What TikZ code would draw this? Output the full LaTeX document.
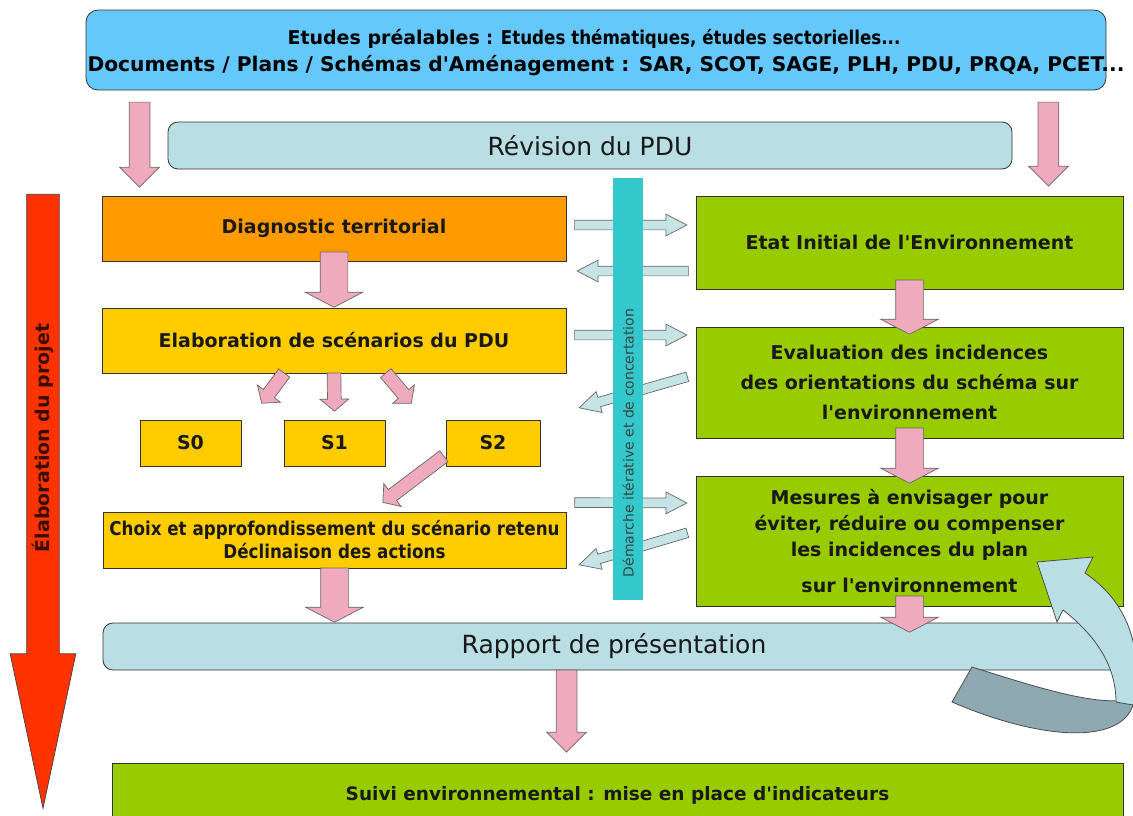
\documentclass[tikz,border=0pt]{standalone}
\usepackage{fontspec}
\setmainfont[Ligatures=TeXOff]{DejaVu Sans}
\newfontfamily\narrowfont[FakeStretch=0.88,Ligatures=TeXOff]{DejaVu Sans}
\usetikzlibrary{shapes.arrows,calc}

\definecolor{skyblue}{HTML}{64C8FA}
\definecolor{paleblue}{HTML}{B9DEE3}
\definecolor{orangebox}{HTML}{FF9A00}
\definecolor{yellowbox}{HTML}{FFCC00}
\definecolor{greenbox}{HTML}{99CC00}
\definecolor{pinkarr}{HTML}{F0AABE}
\definecolor{sidefill}{HTML}{C6E3E6}
\definecolor{barcyan}{HTML}{33C9CC}
\definecolor{elabred}{HTML}{FF3300}
\definecolor{elabtext}{HTML}{3A0D00}
\definecolor{loopdark}{HTML}{8FA9B2}

\newcommand\fsz[2]{\fontsize{#1}{#2}\selectfont}

\tikzset{
  box/.style={draw=black!80, line width=0.8pt, inner sep=0pt, align=center,
    text=black!90, font=\bfseries\fsz{19}{30}},
  roundbox/.style={box, rounded corners=10pt},
  arr/.style={single arrow, draw=black!60, line width=0.7pt, inner sep=0pt,
    text depth=0pt, minimum width=0pt, single arrow head indent=0pt},
  bigpink/.style={arr, fill=pinkarr, text height=27pt,
    single arrow head extend=15pt, single arrow tip angle=125},
  thinpink/.style={arr, fill=pinkarr, text height=20pt,
    single arrow head extend=9.5pt, single arrow tip angle=90},
  smallpink/.style={arr, fill=pinkarr, text height=13pt,
    single arrow head extend=7.5pt, single arrow tip angle=100},
  sidearr/.style={arr, fill=sidefill, text height=9pt,
    single arrow head extend=6pt, single arrow tip angle=55},
  elabarrow/.style={arr, fill=elabred, draw=black!75, text height=32pt,
    single arrow head extend=16.5pt, single arrow tip angle=24},
}

% block arrow from #2 to #3, style #1
\newcommand\blockarrow[3]{%
  \path let \p1=($(#3)-(#2)$), \n1={veclen(\x1,\y1)} in
    (#2) -- (#3) node[#1, pos=1, anchor=tip, sloped, allow upside down, minimum height=\n1] {};}

\begin{document}
\begin{tikzpicture}[x=1pt,y=-1pt]
\useasboundingbox (0,0) rectangle (1133,815);

% sources
\node[roundbox, rounded corners=12pt, fill=skyblue, minimum width=1020pt, minimum height=80pt] (etudes) at (596,50) {};
\node[font=\bfseries\fsz{19}{23}] (etudesA) at (594,39) {Etudes préalables {\narrowfont : Etudes thématiques, études sectorielles...}};
\node[font=\bfseries\fsz{20.2}{24}] (etudesB) at (606,66) {Documents / Plans / Schémas d'Aménagement : SAR, SCOT, SAGE, PLH, PDU, PRQA, PCET...};
\node[roundbox, fill=paleblue, minimum width=844pt, minimum height=47pt, font=\fsz{25}{30}] (revision) at (590,145.5) {Révision du PDU};

% projet
\node[box, fill=orangebox, minimum width=464pt, minimum height=65pt] (diag) at (334,228.5) {Diagnostic territorial};
\node[box, fill=yellowbox, minimum width=464pt, minimum height=65pt] (scen) at (334,340.5) {Elaboration de scénarios du PDU};
\node[box, fill=yellowbox, minimum width=101pt, minimum height=46pt] (s0) at (190.5,443) {S0};
\node[box, fill=yellowbox, minimum width=101pt, minimum height=46pt] (s1) at (334.5,443) {S1};
\node[box, fill=yellowbox, minimum width=94pt, minimum height=46pt] (s2) at (493,443) {S2};
\node[box, fill=yellowbox, minimum width=463pt, minimum height=56pt, font=\narrowfont\bfseries\fsz{19}{23}] (choix) at (334.5,540) {Choix et approfondissement du scénario retenu\\Déclinaison des actions};

% environnement
\node[box, fill=greenbox, minimum width=427pt, minimum height=93pt] (etat) at (909.5,242.5) {Etat Initial de l'Environnement};
\node[box, fill=greenbox, minimum width=427pt, minimum height=111pt] (evalu) at (909.5,382.5) {Evaluation des incidences\\des orientations du schéma sur\\l'environnement};
\node[box, fill=greenbox, minimum width=427pt, minimum height=130pt, font=\bfseries\fsz{19}{26}] (mesures) at (909.5,541) {Mesures à envisager pour\\éviter, réduire ou compenser\\les incidences du plan\\[10pt]sur l'environnement};

\node[roundbox, fill=paleblue, minimum width=1022pt, minimum height=47pt, font=\fsz{25}{30}] (rapport) at (614,646.5) {Rapport de présentation};
\node[box, fill=greenbox, minimum width=1011pt, minimum height=64pt, font=\bfseries\fsz{18.5}{22}] (suivi) at (617.5,795) {Suivi environnemental : mise en place d'indicateurs};

% pink arrows
\blockarrow{thinpink}{$(diag.north west)+(38,-93)$}{$(diag.north west)+(38,-8)$}
\blockarrow{thinpink}{$(etat.north east)+(-75,-93)$}{$(etat.north east)+(-75,-9)$}
\blockarrow{bigpink}{$(diag.south)+(0,-9)$}{scen.north}
\blockarrow{smallpink}{$(scen.south)+(-50,0)$}{$(s0.north east)+(20,-16)$}
\blockarrow{smallpink}{scen.south}{$(s1.north)+(0,-8)$}
\blockarrow{smallpink}{$(scen.south)+(52,0)$}{$(s2.north west)+(-34,-16)$}
\blockarrow{smallpink}{$(s2.south west)+(-2,-10)$}{$(choix.north)+(48,-9)$}
\blockarrow{bigpink}{choix.south}{rapport.north -| choix.south}
\blockarrow{bigpink}{$(etat.south)+(0,-9)$}{$(evalu.north)+(0,8)$}
\blockarrow{bigpink}{$(evalu.south)+(0,-10)$}{$(mesures.north)+(0,8)$}
\blockarrow{bigpink}{$(mesures.south)+(0,-10)$}{$(rapport.north -| mesures.south)+(0,10)$}
\blockarrow{thinpink}{$(rapport.south west)+(464,0)$}{$(suivi.north west)+(455,-10)$}

% aller-retour
\blockarrow{sidearr}{$(diag.east)+(9,-3.5)$}{$(etat.west)+(-8,-17.5)$}
\blockarrow{sidearr}{$(etat.west)+(-8,28.5)$}{$(diag.east)+(10,42.5)$}
\blockarrow{sidearr}{$(scen.east)+(9,-5.5)$}{$(evalu.west)+(-8,-47.5)$}
\blockarrow{sidearr}{$(evalu.west)+(-9,-5.5)$}{$(scen.east)+(12,67.5)$}
\blockarrow{sidearr}{$(choix.north east)+(9,-9)$}{$(mesures.west)+(-8,-38)$}
\blockarrow{sidearr}{$(mesures.west)+(-9,-8)$}{$(choix.east)+(12,25)$}

\node[fill=barcyan, minimum width=30pt, minimum height=422pt, inner sep=0pt] (bar) at (628,389) {};
\node[rotate=90, font=\fsz{14}{17}, text=black!75] (bartxt) at (628,443) {Démarche itérative et de concertation};

% boucle
\draw[draw=black!70, line width=0.8pt, fill=loopdark] (972,667) .. controls (1030,685) and (1090,705) .. (1125,700)
  -- (1133,705) .. controls (1120,745) and (1040,740) .. (952,702) -- cycle;
\draw[draw=black!70, line width=0.8pt, fill=paleblue] (1085,573) .. controls (1125,600) and (1145,645) .. (1133,705)
  -- (1116,702) .. controls (1116,665) and (1095,635) .. (1063,610)
  -- (1057,622) -- (1037,562) -- (1093,557) -- cycle;

% elaboration
\coordinate (elabtop) at (43,196);
\coordinate (elabtip) at (43,810);
\blockarrow{elabarrow}{elabtop}{elabtip}
\node[rotate=90, font=\bfseries\fsz{19}{23}, text=elabtext] (elabtxt) at (43,438) {Élaboration du projet};

\end{tikzpicture}
\end{document}
